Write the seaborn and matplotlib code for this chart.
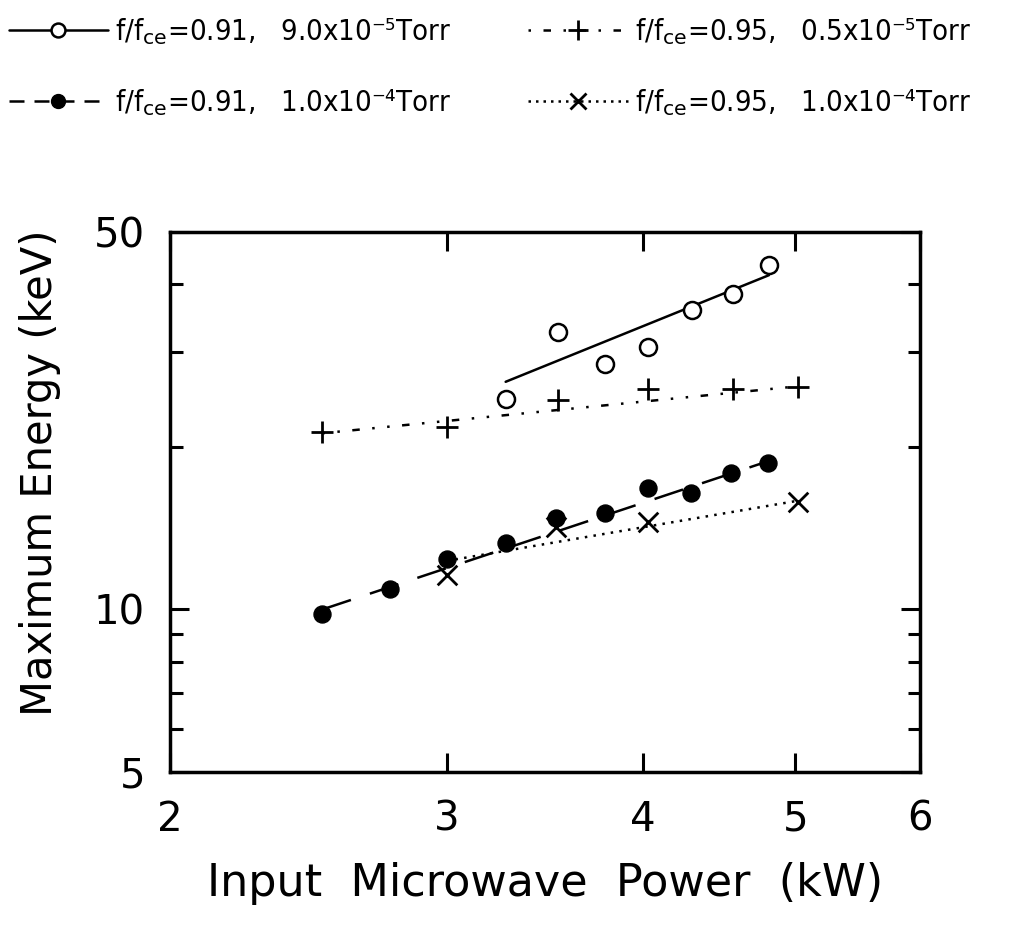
import numpy as np
import pandas as pd
import matplotlib
matplotlib.use("Agg")
import matplotlib.pyplot as plt
from matplotlib.lines import Line2D
from matplotlib.ticker import FixedLocator, NullFormatter, FixedFormatter
import seaborn as sns

# ---- data ----
open_x = [3.27, 3.53, 3.78, 4.03, 4.30, 4.56, 4.81]
open_y = [24.5, 32.7, 28.5, 30.6, 35.8, 38.4, 43.4]
open_fit_x = [3.27, 4.81]
open_fit_y = [26.4, 41.6]

plus_x = [2.50, 3.00, 3.53, 4.03, 4.56, 5.02]
plus_y = [21.3, 21.8, 24.4, 25.6, 25.6, 25.8]
plus_fit_x = [2.50, 5.02]
plus_fit_y = [21.2, 25.9]

fill_x = [2.50, 2.76, 3.00, 3.27, 3.52, 3.78, 4.03, 4.29, 4.55, 4.80]
fill_y = [9.8, 10.9, 12.4, 13.3, 14.8, 15.1, 16.8, 16.4, 17.9, 18.7]
fill_fit_x = [2.50, 4.80]
fill_fit_y = [10.0, 18.8]

cross_x = [3.00, 3.52, 4.03, 5.02]
cross_y = [11.6, 14.2, 14.5, 15.8]
cross_fit_x = [3.00, 5.02]
cross_fit_y = [12.3, 15.9]

labels = [r"f/f$_{\rm ce}$=0.91,   9.0x10⁻⁵Torr",
          r"f/f$_{\rm ce}$=0.91,   1.0x10⁻⁴Torr",
          r"f/f$_{\rm ce}$=0.95,   0.5x10⁻⁵Torr",
          r"f/f$_{\rm ce}$=0.95,   1.0x10⁻⁴Torr"]

x_ticks = [2, 3, 4, 5, 6]
x_ticklabels = ["2", "3", "4", "5", "6"]
y_ticks = [5, 10, 50]
y_ticklabels = ["5", "10", "50"]
y_minor = [6, 7, 8, 9, 20, 30, 40]

# ---- style ----
sns.set_theme(style="white")
plt.rcParams['font.family'] = ['DejaVu Sans']
plt.rcParams['mathtext.fontset'] = 'dejavusans'
for k in ["text.color", "axes.labelcolor", "xtick.color", "ytick.color", "axes.edgecolor"]:
    plt.rcParams[k] = "black"

fig = plt.figure(figsize=(10.13, 9.33), dpi=100)
ax = fig.add_axes([0.168, 0.1726, 0.740, 0.5787])

lw = 1.8
# fit lines
sns.lineplot(x=open_fit_x, y=open_fit_y, ax=ax, color="black", lw=lw, linestyle="-")
sns.lineplot(x=plus_fit_x, y=plus_fit_y, ax=ax, color="black", lw=lw, linestyle=(0, (1, 5, 1, 5, 3, 5)))
sns.lineplot(x=fill_fit_x, y=fill_fit_y, ax=ax, color="black", lw=lw, linestyle=(0, (12, 8)))
sns.lineplot(x=cross_fit_x, y=cross_fit_y, ax=ax, color="black", lw=lw, linestyle=(0, (1, 2.5)))

# markers
sns.scatterplot(x=open_x, y=open_y, ax=ax, marker="o", s=150, facecolor="white",
                edgecolor="black", linewidth=1.8, zorder=5)
sns.scatterplot(x=plus_x, y=plus_y, ax=ax, marker="+", s=260, color="black",
                linewidth=2.0, zorder=5)
sns.scatterplot(x=fill_x, y=fill_y, ax=ax, marker="o", s=150, color="black",
                edgecolor="black", zorder=5)
sns.scatterplot(x=cross_x, y=cross_y, ax=ax, marker="x", s=200, color="black",
                linewidth=2.0, zorder=5)

ax.set_xscale("log")
ax.set_yscale("log")
ax.set_xlim(2, 6)
ax.set_ylim(5, 50)

ax.xaxis.set_major_locator(FixedLocator(x_ticks))
ax.xaxis.set_major_formatter(FixedFormatter(x_ticklabels))
ax.xaxis.set_minor_locator(FixedLocator([]))
ax.yaxis.set_major_locator(FixedLocator(y_ticks))
ax.yaxis.set_major_formatter(FixedFormatter(y_ticklabels))
ax.yaxis.set_minor_locator(FixedLocator(y_minor))
ax.yaxis.set_minor_formatter(NullFormatter())

ax.tick_params(which="both", direction="in", top=True, right=True, left=True, bottom=True,
               color="black", width=2.2)
ax.tick_params(which="major", length=14, labelsize=29, pad=18)
ax.tick_params(which="minor", length=9)
ax.tick_params(axis="x", which="major", pad=20)

for s in ax.spines.values():
    s.set_color("black")
    s.set_linewidth(2.5)

ax.set_xlabel("Input  Microwave  Power  (kW)", fontsize=32, labelpad=16)
ax.set_ylabel("Maximum Energy (keV)", fontsize=30)
ax.yaxis.set_label_coords(-0.146, 0.555)

# legend
handles = [
    Line2D([], [], color="black", lw=1.8, ls="-", marker="o", markersize=10,
           markerfacecolor="white", markeredgecolor="black", markeredgewidth=1.8),
    Line2D([], [], color="black", lw=1.8, ls=(0, (6, 4)), marker="o", markersize=10,
           markerfacecolor="black"),
    Line2D([], [], color="black", lw=1.8, ls=(0, (1, 5, 3, 5)), marker="+", markersize=14,
           markeredgewidth=2.0),
    Line2D([], [], color="black", lw=1.8, ls=(0, (1, 2)), marker="x", markersize=12,
           markeredgewidth=2.0),
]
fig.legend(handles, labels, ncol=2, loc="upper left", bbox_to_anchor=(0.0, 0.9925),
           frameon=False, prop={"size": 21, "stretch": "condensed"},
           handlelength=3.4, handletextpad=0.25, columnspacing=2.65,
           labelspacing=1.4, borderaxespad=0.0, borderpad=0.3)

fig.savefig("out.png", dpi=100)
